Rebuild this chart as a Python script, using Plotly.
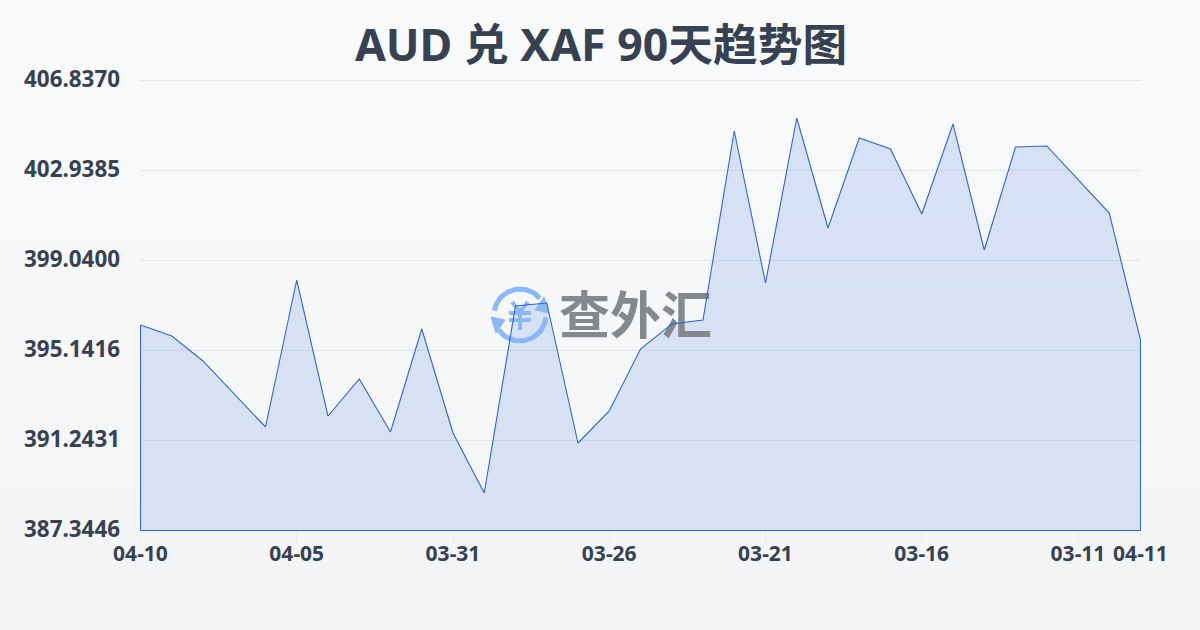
import base64
import numpy as np
import plotly.graph_objects as go

title = "AUD 兑 XAF 90天趋势图"
dates = ["04-10","04-09","04-08","04-07","04-06","04-05","04-04","04-03","04-02","04-01","03-31",
         "03-30","03-29","03-28","03-27","03-26","03-25","03-24","03-23","03-22","03-21",
         "03-20","03-19","03-18","03-17","03-16","03-15","03-14","03-13","03-12","03-11","03-10","04-11"]
rates = [396.246,395.770,394.687,393.257,391.828,398.195,392.304,393.907,391.611,396.073,391.568,
         388.969,397.069,397.199,391.135,392.521,395.207,396.289,396.463,404.650,398.065,
         405.213,400.448,404.346,403.870,401.054,404.953,399.495,403.957,404.000,402.570,401.097,395.596]
y_ticks = [387.3446, 391.2431, 395.1416, 399.0400, 402.9385, 406.8370]
y_labels = ["387.3446","391.2431","395.1416","399.0400","402.9385","406.8370"]
x_tick_idx = [0,5,10,15,20,25,30,32]

INK = "#374151"
FONT = "Noto Sans, Noto Sans CJK SC, sans-serif"
L, R, T, B = 140.5, 1140.5, 80.5, 530.5
PX_PER_UNIT = (B - T) / (y_ticks[-1] - y_ticks[0])
PX_PER_STEP = (R - L) / 32
# integer plot frame 140..1141 x 79..531 around the half-pixel data frame
M_L, M_R, M_T, M_B = 140, 59, 79, 99

# pixel helpers for the watermark only
dx = lambda v: (v - L) / PX_PER_STEP
dy = lambda v: y_ticks[0] + (B - v) / PX_PER_UNIT

xs = list(range(len(rates)))
fig = go.Figure()

# area fill (no outline)
fig.add_trace(go.Scatter(
    x=xs + [xs[-1], xs[0], xs[0]],
    y=rates + [y_ticks[0], y_ticks[0], rates[0]],
    mode="none", fill="toself",
    fillgradient=dict(type="vertical", colorscale=[[0, "rgba(35,95,225,0.13)"], [1, "rgba(35,90,215,0.15)"]]),
    hoverinfo="skip", showlegend=False))

# watermark logo, then text, on top of fill and under the outline
LOGO = "#8db8f7"
def logo_line(pts, width, fill=False):
    a = np.array(pts, dtype=float)
    fig.add_trace(go.Scatter(x=dx(a[:, 0]), y=dy(a[:, 1]), mode="lines", line=dict(color=LOGO, width=width),
                             fill="toself" if fill else None, fillcolor=LOGO if fill else None,
                             hoverinfo="skip", showlegend=False, cliponaxis=False))
def arc(a0, a1, r=26, cx=520, cy=315, n=40):
    t = np.radians(np.linspace(a0, a1, n))
    return np.c_[cx + r*np.cos(t), cy - r*np.sin(t)]
logo_line(arc(40, 170), 5)
logo_line(arc(215, 355), 5)
logo_line([(491,317),(505,320),(496,333),(491,317)], 1, True)
logo_line([(549,313),(535,310),(544,297),(549,313)], 1, True)
logo_line([(512,302),(520,312),(528,302)], 4)
logo_line([(509,313),(531,313)], 4)
logo_line([(509,320),(531,320)], 4)
logo_line([(520,312),(520,330)], 4)
fig.add_trace(go.Scatter(x=[dx(635.5)], y=[dy(321)], mode="text", text=["<b>查外汇</b>"],
                         textfont=dict(family="Noto Sans CJK SC", size=51, color="#85888f"),
                         hoverinfo="skip", showlegend=False))

# outline closed along the baseline
fig.add_trace(go.Scatter(
    x=xs + [xs[-1], xs[0], xs[0]],
    y=rates + [y_ticks[0], y_ticks[0], rates[0]],
    mode="lines", line=dict(color="#2f66cc", width=1.1), cliponaxis=False,
    hoverinfo="skip", showlegend=False))

svg = ('<svg xmlns="http://www.w3.org/2000/svg" width="1200" height="630">'
       '<defs><linearGradient id="g" x1="0" y1="0" x2="0" y2="1"><stop offset="0" stop-color="#f8fafc"/>'
       '<stop offset="1" stop-color="#f3f4f6"/></linearGradient></defs>'
       '<rect width="1200" height="630" fill="url(#g)"/></svg>')
bg = "data:image/svg+xml;base64," + base64.b64encode(svg.encode()).decode()

plot_w = 1200 - M_L - M_R
plot_h = 630 - M_T - M_B
fig.update_layout(
    width=1200, height=630, autosize=False,
    margin=dict(l=M_L, r=M_R, t=M_T, b=M_B),
    paper_bgcolor="#f8fafc", plot_bgcolor="rgba(0,0,0,0)",
    font=dict(family=FONT, color=INK),
    title=dict(text=f"<b>{title}</b>", x=601/1200, xanchor="center", y=1-45/630, yanchor="middle",
               font=dict(family=FONT, size=44.7, color=INK)),
    images=[dict(source=bg, xref="paper", yref="paper", x=-M_L/plot_w, y=(630-M_B)/plot_h, sizex=1200/plot_w, sizey=630/plot_h,
                 xanchor="left", yanchor="top", sizing="stretch", layer="below")],
    xaxis=dict(range=[dx(M_L), dx(1200 - M_R)], tickmode="array", tickvals=x_tick_idx, ticktext=[dates[i] for i in x_tick_idx],
               showgrid=False, zeroline=False, showline=False, ticks="outside", ticklen=10, tickwidth=1,
               tickcolor="#e5e7eb", ticklabelstandoff=-6,
               tickfont=dict(size=21, color=INK, family=FONT, weight="bold"), tickangle=0),
    yaxis=dict(range=[dy(630 - M_B), dy(M_T)], tickmode="array", tickvals=y_ticks, ticktext=y_labels,
               showgrid=True, gridcolor="#e5e7eb", gridwidth=1, zeroline=False, showline=False, ticks="",
               ticklabelstandoff=19, ticklabelshift=-1,
               tickfont=dict(size=22.4, color=INK, family=FONT, weight="bold")),
)
fig.write_html("out.html", config=dict(displayModeBar=False),
               post_script="document.body.style.margin='0';document.body.style.overflow='hidden';")
